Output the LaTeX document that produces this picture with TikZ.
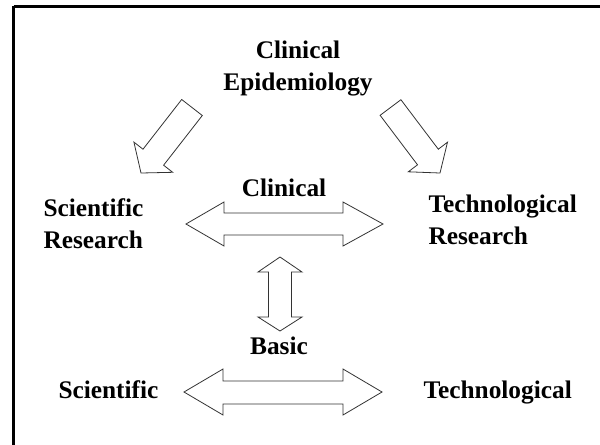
\documentclass[tikz,border=0pt]{standalone}
\usepackage{fontspec}
\setmainfont{Liberation Serif}

\tikzset{every picture/.style={line width=0.75pt}}
\tikzset{lbl/.style={inner sep=0pt, font=\fontsize{19}{24}\selectfont\bfseries},
  blockarrow/.style={draw=black!80, line width=0.6pt, fill=white}}

\begin{document}
\begin{tikzpicture}[x=0.75pt,y=0.75pt,yscale=-1,xscale=1]
\useasboundingbox (0,0) rectangle (600,444);

%Shape: Frame
\draw [line width=2pt] (13.5,6.2) -- (606,6.2) (13.5,6.2) -- (13.5,450);

%Shape: Down-Left Arrow
\draw [blockarrow] (181.7,99.5) -- (202.3,115.5) -- (163.6,165.2) -- (172.7,172.3) -- (141,173) -- (133.9,142.1) -- (143,149.2) -- cycle ;
%Shape: Down-Right Arrow
\draw [blockarrow] (380.1,115.3) -- (400.9,99.7) -- (438.3,149.2) -- (447.5,142.2) -- (440,173) -- (408.3,171.8) -- (417.5,164.8) -- cycle ;
%Shape: Left-Right Arrow (clinical)
\draw [blockarrow] (186,224) -- (224,202) -- (224,213) -- (343,213) -- (343,202) -- (383,224) -- (343,246) -- (343,235) -- (224,235) -- (224,246) -- cycle ;
%Shape: Up-Down Arrow
\draw [blockarrow] (280,257) -- (302,272) -- (291.5,272) -- (291.5,317) -- (302,317) -- (280,331) -- (258,317) -- (268.5,317) -- (268.5,272) -- (258,272) -- cycle ;
%Shape: Left-Right Arrow (basic)
\draw [blockarrow] (184,392) -- (223,369) -- (223,381) -- (343,381) -- (343,369) -- (382,392) -- (343,415) -- (343,404) -- (223,404) -- (223,415) -- cycle ;

% Text Node
\node (clinepi) [lbl, anchor=base, align=center] at (298,90) {Clinical\\Epidemiology};
% Text Node
\node (sciresearch) [lbl, anchor=base west, align=left] at (43,248) {Scientific\\Research};
% Text Node
\node (techresearch) [lbl, anchor=base west, align=left] at (428,244) {Technological\\Research};
% Text Node
\node (clinical) [lbl, anchor=base] at (284,196) {Clinical};
% Text Node
\node (basic) [lbl, anchor=base] at (279,354) {Basic};
% Text Node
\node (scientific) [lbl, anchor=base west] at (58,398) {Scientific};
% Text Node
\node (technological) [lbl, anchor=base west] at (423,398) {Technological};

\end{tikzpicture}
\end{document}
